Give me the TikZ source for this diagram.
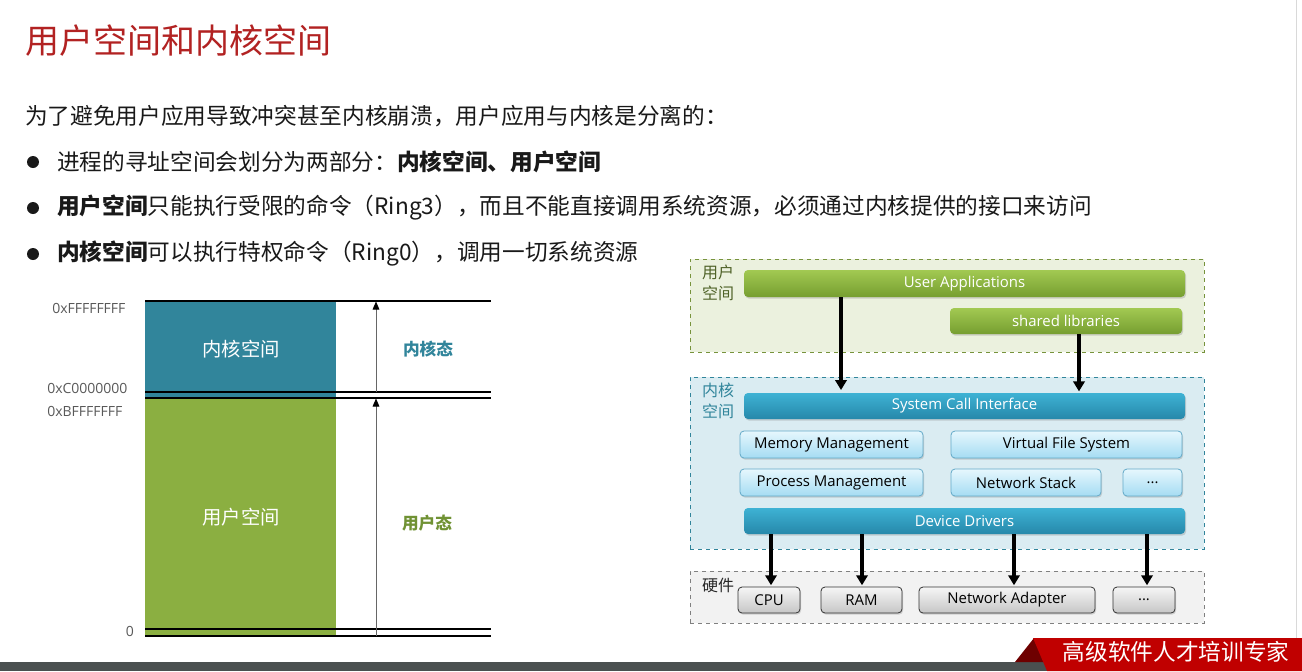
\documentclass[tikz,border=0pt]{standalone}
\usepackage{fontspec}
\setmainfont{Open Sans}
\newfontfamily\cjk{Noto Sans CJK SC}
\usetikzlibrary{shadows,arrows.meta,calc}
\definecolor{titlered}{RGB}{178,34,34}
\definecolor{txt}{RGB}{25,25,25}
\definecolor{hexgray}{RGB}{89,89,89}
\definecolor{kteal}{RGB}{49,133,155}
\definecolor{ugreen}{RGB}{139,175,65}
\definecolor{ugreentxt}{RGB}{112,146,52}
\definecolor{ulabel}{RGB}{79,98,40}
\definecolor{ubg}{RGB}{235,241,222}
\definecolor{uborder}{RGB}{119,147,60}
\definecolor{kbg}{RGB}{218,236,242}
\definecolor{hbg}{RGB}{242,242,242}
\definecolor{hborder}{RGB}{128,128,128}
\definecolor{gtop}{RGB}{162,201,82}
\definecolor{gbot}{RGB}{118,158,48}
\definecolor{btop}{RGB}{62,178,212}
\definecolor{bbot}{RGB}{38,136,170}
\definecolor{ltop}{RGB}{230,247,253}
\definecolor{lbot}{RGB}{165,220,243}
\definecolor{lborder}{RGB}{100,170,200}
\definecolor{graytop}{RGB}{246,246,246}
\definecolor{graybot}{RGB}{198,198,198}
\definecolor{footgray}{RGB}{74,80,80}
\definecolor{footred}{RGB}{192,0,0}
\definecolor{footdark}{RGB}{110,0,0}
\tikzset{
  shad/.style={drop shadow={opacity=0.3, shadow xshift=0.8pt, shadow yshift=-1.2pt}},
  boxfont/.style={font=\fontsize{11.2}{13}\selectfont},
  gbar/.style={shad, rounded corners=3pt, top color=gtop, bottom color=gbot, draw=none,
    text=white, boxfont, inner sep=0pt},
  bbar/.style={shad, rounded corners=3pt, top color=btop, bottom color=bbot, draw=none,
    text=white, boxfont, inner sep=0pt},
  lbox/.style={shad, rounded corners=3pt, top color=ltop, bottom color=lbot, draw=lborder,
    line width=0.6pt, text=black, boxfont, inner sep=0pt},
  hwbox/.style={shad, rounded corners=3pt, top color=graytop, bottom color=graybot, draw=black!80,
    line width=0.6pt, text=black, boxfont, inner sep=0pt},
  region/.style={dashed, line width=0.6pt, inner sep=0pt},
  blackarr/.style={draw=black, line width=3pt, -{Triangle[width=8.5pt,length=7.5pt]}},
  grayarr/.style={draw=black!60, line width=0.7pt, -{Triangle[width=5pt,length=6pt,color=black]}},
  blk/.style={line width=1.5pt},
  hexlab/.style={text=hexgray, font=\fontsize{10.5}{12}\selectfont, inner sep=0pt},
  body/.style={text=txt, font=\cjk\fontsize{17}{20}\selectfont, inner sep=0pt, anchor=west},
}
\begin{document}
\begin{tikzpicture}[x=0.75pt, y=-0.75pt]
\useasboundingbox (0,0) rectangle (1302,671);
\fill[white] (0,0) rectangle (1302,671);
% slide edge
\draw[black!15, line width=0.6pt] (1296,0) -- (1296,640);

% title and text
\node[text=titlered, font=\cjk\fontsize{25.5}{28}\selectfont, inner sep=0pt, anchor=west] (title) at (25,41) {用户空间和内核空间};
\node[body] (l1) at (25,116) {为了避免用户应用导致冲突甚至内核崩溃，用户应用与内核是分离的：};
\fill[txt] (33,162) circle (6);
\fill[txt] (33,208) circle (6);
\fill[txt] (33,254) circle (6);
\node[body] (b1) at (57,162) {进程的寻址空间会划分为两部分：\textbf{内核空间、用户空间}};
\node[body] (b2) at (57,208) {\textbf{用户空间}只能执行受限的命令（Ring3），而且不能直接调用系统资源，必须通过内核提供的接口来访问};
\node[body] (b3) at (57,254) {\textbf{内核空间}可以执行特权命令（Ring0），调用一切系统资源};

% left memory diagram
\fill[kteal] (145,300) rectangle (336,397);
\fill[ugreen] (145,397) rectangle (336,636);
\draw[blk] (145,301) -- (491,301);
\draw[blk] (145,392) -- (491,392);
\draw[blk] (145,397.5) -- (491,397.5);
\draw[blk] (145,629) -- (491,629);
\draw[blk] (145,636) -- (491,636);
\coordinate (a1s) at (376,636);
\coordinate (a1e) at (376,398.5);
\coordinate (a2s) at (376,392);
\coordinate (a2e) at (376,301.5);
\draw[grayarr] (a1s) -- (a1e);
\draw[grayarr] (a2s) -- (a2e);
\node[hexlab, anchor=west] (hf) at (52,308) {0xFFFFFFFF};
\node[hexlab, anchor=west] (hc) at (47,388) {0xC0000000};
\node[hexlab, anchor=west] (hb) at (47,411) {0xBFFFFFFF};
\node[hexlab] (h0) at (130,631) {0};
\node[text=white, font=\cjk\fontsize{14.5}{16}\selectfont] (kst) at (241,349) {内核空间};
\node[text=white, font=\cjk\fontsize{14.5}{16}\selectfont] (ust) at (241,517) {用户空间};
\node[text=kteal, font=\cjk\bfseries\fontsize{12.5}{14}\selectfont] (kmode) at (428,349) {内核态};
\node[text=ugreentxt, font=\cjk\bfseries\fontsize{12.5}{14}\selectfont] (umode) at (427,523) {用户态};

% right architecture diagram
\node[region, draw=uborder, fill=ubg, minimum width=385.5pt, minimum height=69.75pt] (ureg) at (947,305.5) {};
\node[region, draw=kteal, fill=kbg, minimum width=385.5pt, minimum height=129pt] (kreg) at (947,463) {};
\node[region, draw=hborder, fill=hbg, minimum width=385.5pt, minimum height=39pt] (hreg) at (947,597) {};

\node[text=ulabel, font=\cjk\fontsize{12}{15.75}\selectfont, align=left, inner sep=0pt] (ulab) at (718,282.5) {用户\\空间};
\node[text=kteal, font=\cjk\fontsize{12}{15.75}\selectfont, align=left, inner sep=0pt] (klab) at (718,400.5) {内核\\空间};
\node[text=black!85, font=\cjk\fontsize{12}{14}\selectfont, inner sep=0pt] (hlab) at (718,585) {硬件};

\node[gbar, minimum width=330.75pt, minimum height=20.25pt] (ua) at (964.5,283.5) {User Applications};
\node[gbar, minimum width=174pt, minimum height=19.5pt] (sl) at (1066,321) {shared libraries};
\node[bbar, minimum width=330.75pt, minimum height=19.5pt] (sci) at (964.5,406) {System Call Interface};
\node[lbox, minimum width=137.25pt, minimum height=20.25pt] (mm) at (831.5,444.5) {Memory Management};
\node[lbox, minimum width=173.25pt, minimum height=20.25pt] (vfs) at (1066.5,444.5) {Virtual File System};
\node[lbox, minimum width=137.25pt, minimum height=20.25pt] (pm) at (831.5,482.5) {Process Management};
\node[lbox, minimum width=112.5pt, minimum height=20.25pt] (ns) at (1026,482.5) {Network Stack};
\node[lbox, minimum width=44.25pt, minimum height=20.25pt] (kmore) at (1152.5,482.5) {...};
\node[bbar, minimum width=330.75pt, minimum height=19.5pt] (dd) at (964.5,521) {Device Drivers};
\node[hwbox, minimum width=46.5pt, minimum height=19.5pt] (cpu) at (769,600) {CPU};
\node[hwbox, minimum width=60.75pt, minimum height=19.5pt] (ram) at (861.5,600) {RAM};
\node[hwbox, minimum width=132pt, minimum height=19.5pt] (na) at (1007,600) {Network Adapter};
\node[hwbox, minimum width=46.5pt, minimum height=19.5pt] (hmore) at (1144,600) {...};

\coordinate (x1) at (841,0);
\coordinate (x2) at (1079,0);
\coordinate (x3) at (771,0);
\coordinate (x4) at (862,0);
\coordinate (x5) at (1014,0);
\coordinate (x6) at (1147,0);
\draw[blackarr] (ua.south -| x1) -- ([yshift=2pt]sci.north -| x1);
\draw[blackarr] (sl.south -| x2) -- ([yshift=1pt]sci.north -| x2);
\draw[blackarr] (dd.south -| x3) -- ([yshift=1pt]cpu.north -| x3);
\draw[blackarr] (dd.south -| x4) -- ([yshift=1pt]ram.north -| x4);
\draw[blackarr] (dd.south -| x5) -- ([yshift=1pt]na.north -| x5);
\draw[blackarr] (dd.south -| x6) -- ([yshift=1pt]hmore.north -| x6);

% footer
\fill[footgray] (0,662) rectangle (1302,671);
\fill[footdark] (1015,662) -- (1034,638) -- (1045,662) -- cycle;
\fill[footred] (1033,638) -- (1302,638) -- (1302,671) -- (1047,671) -- cycle;
\node[text=white, font=\cjk\fontsize{17}{19}\selectfont, inner sep=0pt] (foot) at (1176,652) {高级软件人才培训专家};
\end{tikzpicture}
\end{document}
